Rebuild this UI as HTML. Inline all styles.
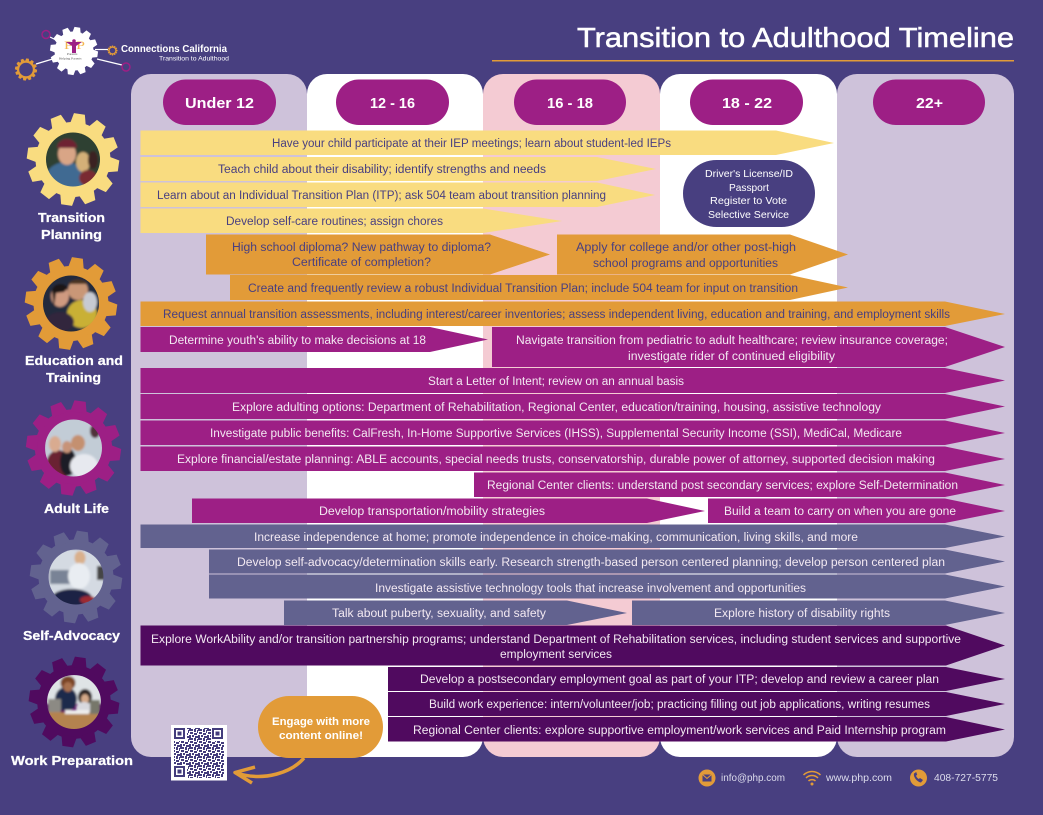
<!DOCTYPE html>
<html lang="en"><head><meta charset="utf-8"><title>Transition to Adulthood Timeline</title>
<style>
html,body{margin:0;padding:0;background:#483f80;width:1043px;height:815px;overflow:hidden}
svg{display:block}
text{font-family:"Liberation Sans",sans-serif}
.d text{fill:#483f80;font-size:11.5px}
.l text{fill:#f3e9f2;font-size:11.5px}
.h text{fill:#fff;font-weight:bold;font-size:13px;stroke:#fff;stroke-width:.25px}
.age text{fill:#fff;font-weight:bold;font-size:15px}
.f text{fill:#dcdcec;font-size:10px}
</style></head><body>
<svg width="1043" height="815" viewBox="0 0 1043 815" xmlns="http://www.w3.org/2000/svg">
<defs>
<clipPath id="c1"><circle cx="73" cy="159.5" r="27"/></clipPath>
<clipPath id="c2"><circle cx="71" cy="303.5" r="28"/></clipPath>
<clipPath id="c3"><circle cx="73.500" cy="448" r="28.500"/></clipPath>
<clipPath id="c4"><circle cx="76" cy="577" r="27.500"/></clipPath>
<clipPath id="c5"><circle cx="74" cy="702" r="27"/></clipPath>
<filter id="soft" x="-10%" y="-10%" width="120%" height="120%"><feGaussianBlur stdDeviation="1"/></filter>
<polygon id="t" points="-8,-35 -5.500,-46 5.500,-46 8,-35"/>
<g id="gear">
<circle r="37.500"/>
<use href="#t"/><use href="#t" transform="rotate(30)"/><use href="#t" transform="rotate(60)"/><use href="#t" transform="rotate(90)"/>
<use href="#t" transform="rotate(120)"/><use href="#t" transform="rotate(150)"/><use href="#t" transform="rotate(180)"/><use href="#t" transform="rotate(210)"/>
<use href="#t" transform="rotate(240)"/><use href="#t" transform="rotate(270)"/><use href="#t" transform="rotate(300)"/><use href="#t" transform="rotate(330)"/>
</g>
<pattern id="qr" width="9" height="9" patternUnits="userSpaceOnUse">
<rect width="9" height="9" fill="#fff"/>
<path fill="#433c7c" d="M0 0h4v2H0zM5 0h2v3H5zM8 1h1v3H8zM1 3h3v2H1zM5 4h3v2H5zM0 6h2v3H0zM3 6h2v2H3zM6 7h3v2H6z"/>
</pattern>
</defs>
<rect width="1043" height="815" fill="#483f80"/>

<!-- columns -->
<rect x="307" y="74" width="176" height="683" rx="20" fill="#fff"/>
<rect x="483" y="74" width="177" height="683" rx="20" fill="#f4cbd3"/>
<rect x="660" y="74" width="177" height="683" rx="20" fill="#fff"/>
<rect x="837" y="74" width="177" height="683" rx="20" fill="#cec2da"/>
<rect x="131" y="74" width="176" height="683" rx="20" fill="#cec2da"/>

<!-- age pills -->
<g fill="#9d1f85">
<rect x="163" y="79.500" width="113" height="45.500" rx="22.750"/>
<rect x="336" y="79.500" width="113" height="45.500" rx="22.750"/>
<rect x="514" y="79.500" width="112" height="45.500" rx="22.750"/>
<rect x="690" y="79.500" width="113" height="45.500" rx="22.750"/>
<rect x="873" y="79.500" width="112" height="45.500" rx="22.750"/>
</g>
<g class="age">
<text x="185" y="108" textLength="69" lengthAdjust="spacingAndGlyphs">Under 12</text>
<text x="370" y="108" textLength="45" lengthAdjust="spacingAndGlyphs">12 - 16</text>
<text x="547" y="108" textLength="46" lengthAdjust="spacingAndGlyphs">16 - 18</text>
<text x="722" y="108" textLength="50" lengthAdjust="spacingAndGlyphs">18 - 22</text>
<text x="916" y="108" textLength="27" lengthAdjust="spacingAndGlyphs">22+</text>
</g>

<!-- bars -->
<g fill="#f9dc80">
<polygon points="140.500,130.500 776,130.500 834,143 776,155 140.500,155"/>
<polygon points="140.500,157 597,157 656,169 597,181 140.500,181"/>
<polygon points="140.500,182.500 597,182.500 655,195 597,207 140.500,207"/>
<polygon points="140.500,208.500 483,208.500 562,221 483,233 140.500,233"/>
</g>
<g fill="#e29b38">
<polygon points="206,234.500 490,234.500 550,254.500 490,274.500 206,274.500"/>
<polygon points="557,234.500 790,234.500 848,254.500 790,274.500 557,274.500"/>
<polygon points="230,275 790,275 848,287.500 790,300 230,300"/>
<polygon points="140.500,301.500 945,301.500 1005,314 945,326 140.500,326"/>
</g>
<g fill="#9d1f85">
<polygon points="140.500,327 430,327 488,339.500 430,352 140.500,352"/>
<polygon points="492,327 945,327 1005,347 945,367 492,367"/>
<polygon points="140.500,368 945,368 1005,380.500 945,393 140.500,393"/>
<polygon points="140.500,394 945,394 1005,406.500 945,419 140.500,419"/>
<polygon points="140.500,420.500 945,420.500 1005,433 945,445 140.500,445"/>
<polygon points="140.500,446.500 945,446.500 1005,459 945,471 140.500,471"/>
<polygon points="474,472.500 945,472.500 1005,485 945,497 474,497"/>
<polygon points="192,498.500 647,498.500 705,511 647,523 192,523"/>
<polygon points="708,498.500 945,498.500 1005,511 945,523 708,523"/>
</g>
<g fill="#62628f">
<polygon points="140.500,524.500 945,524.500 1005,536.500 945,548 140.500,548"/>
<polygon points="209,549.500 945,549.500 1005,561.500 945,573.500 209,573.500"/>
<polygon points="209,574.500 945,574.500 1005,586.500 945,598.500 209,598.500"/>
<polygon points="284,600.500 567,600.500 627,613 567,625 284,625"/>
<polygon points="632,600.500 945,600.500 1005,613 945,625 632,625"/>
</g>
<g fill="#500a5f">
<polygon points="140.500,625.500 946,625.500 1005,645.500 946,665.500 140.500,665.500"/>
<polygon points="388,667 946,667 1005,679 946,691 388,691"/>
<polygon points="388,692 946,692 1005,704 946,716 388,716"/>
<polygon points="388,717 946,717 1005,729.500 946,741.500 388,741.500"/>
</g>

<!-- driver's box -->
<rect x="683" y="160" width="132" height="67" rx="33.500" fill="#483f80"/>
<g fill="#fff">
<text x="705" y="177" font-size="10.500" textLength="88" lengthAdjust="spacingAndGlyphs">Driver's License/ID</text>
<text x="729" y="191" font-size="10.500" textLength="40" lengthAdjust="spacingAndGlyphs">Passport</text>
<text x="710" y="204" font-size="10.500" textLength="77" lengthAdjust="spacingAndGlyphs">Register to Vote</text>
<text x="708" y="218" font-size="10.500" textLength="81" lengthAdjust="spacingAndGlyphs">Selective Service</text>
</g>

<!-- bar text dark -->
<g class="d">
<text x="272" y="147" textLength="399" lengthAdjust="spacingAndGlyphs">Have your child participate at their IEP meetings; learn about student-led IEPs</text>
<text x="218" y="173" textLength="328" lengthAdjust="spacingAndGlyphs">Teach child about their disability; identify strengths and needs</text>
<text x="157" y="199" textLength="449" lengthAdjust="spacingAndGlyphs">Learn about an Individual Transition Plan (ITP); ask 504 team about transition planning</text>
<text x="226" y="225" textLength="217" lengthAdjust="spacingAndGlyphs">Develop self-care routines; assign chores</text>
<text x="232" y="251" textLength="259" lengthAdjust="spacingAndGlyphs">High school diploma? New pathway to diploma?</text>
<text x="292" y="266" textLength="139" lengthAdjust="spacingAndGlyphs">Certificate of completion?</text>
<text x="576" y="251" textLength="220" lengthAdjust="spacingAndGlyphs">Apply for college and/or other post-high</text>
<text x="593" y="267" textLength="185" lengthAdjust="spacingAndGlyphs">school programs and opportunities</text>
<text x="248" y="292" textLength="550" lengthAdjust="spacingAndGlyphs">Create and frequently review a robust Individual Transition Plan; include 504 team for input on transition</text>
<text x="163" y="318" textLength="787" lengthAdjust="spacingAndGlyphs">Request annual transition assessments, including interest/career inventories; assess independent living, education and training, and employment skills</text>
</g>
<!-- bar text light -->
<g class="l">
<text x="169" y="344" textLength="257" lengthAdjust="spacingAndGlyphs">Determine youth's ability to make decisions at 18</text>
<text x="516" y="344" textLength="432" lengthAdjust="spacingAndGlyphs">Navigate transition from pediatric to adult healthcare; review insurance coverage;</text>
<text x="628" y="360" textLength="207" lengthAdjust="spacingAndGlyphs">investigate rider of continued eligibility</text>
<text x="428" y="385" textLength="256" lengthAdjust="spacingAndGlyphs">Start a Letter of Intent; review on an annual basis</text>
<text x="232" y="411" textLength="649" lengthAdjust="spacingAndGlyphs">Explore adulting options: Department of Rehabilitation, Regional Center, education/training, housing, assistive technology</text>
<text x="210" y="437" textLength="692" lengthAdjust="spacingAndGlyphs">Investigate public benefits: CalFresh, In-Home Supportive Services (IHSS), Supplemental Security Income (SSI), MediCal, Medicare</text>
<text x="177" y="463" textLength="758" lengthAdjust="spacingAndGlyphs">Explore financial/estate planning: ABLE accounts, special needs trusts, conservatorship, durable power of attorney, supported decision making</text>
<text x="487" y="489" textLength="471" lengthAdjust="spacingAndGlyphs">Regional Center clients: understand post secondary services; explore Self-Determination</text>
<text x="319" y="515" textLength="226" lengthAdjust="spacingAndGlyphs">Develop transportation/mobility strategies</text>
<text x="724" y="515" textLength="232" lengthAdjust="spacingAndGlyphs">Build a team to carry on when you are gone</text>
<text x="254" y="541" textLength="604" lengthAdjust="spacingAndGlyphs">Increase independence at home; promote independence in choice-making, communication, living skills, and more</text>
<text x="237" y="566" textLength="708" lengthAdjust="spacingAndGlyphs">Develop self-advocacy/determination skills early. Research strength-based person centered planning; develop person centered plan</text>
<text x="375" y="592" textLength="431" lengthAdjust="spacingAndGlyphs">Investigate assistive technology tools that increase involvement and opportunities</text>
<text x="332" y="617" textLength="214" lengthAdjust="spacingAndGlyphs">Talk about puberty, sexuality, and safety</text>
<text x="714" y="617" textLength="176" lengthAdjust="spacingAndGlyphs">Explore history of disability rights</text>
<text x="151" y="643" textLength="810" lengthAdjust="spacingAndGlyphs">Explore WorkAbility and/or transition partnership programs; understand Department of Rehabilitation services, including student services and supportive</text>
<text x="500" y="658" textLength="112" lengthAdjust="spacingAndGlyphs">employment services</text>
<text x="420" y="683" textLength="519" lengthAdjust="spacingAndGlyphs">Develop a postsecondary employment goal as part of your ITP; develop and review a career plan</text>
<text x="429" y="708" textLength="501" lengthAdjust="spacingAndGlyphs">Build work experience: intern/volunteer/job; practicing filling out job applications, writing resumes</text>
<text x="413" y="734" textLength="533" lengthAdjust="spacingAndGlyphs">Regional Center clients: explore supportive employment/work services and Paid Internship program</text>
</g>

<!-- Title -->
<text x="577" y="47" font-size="28" fill="#fff" textLength="437" lengthAdjust="spacingAndGlyphs" style="stroke:#fff;stroke-width:.5px">Transition to Adulthood Timeline</text>
<rect x="492" y="60" width="522" height="1.500" fill="#e29b38"/>

<!-- Logo -->
<g stroke="#fff" stroke-width="1.200" fill="none">
<line x1="36" y1="64" x2="56" y2="58"/><line x1="50" y1="37" x2="56" y2="40"/>
<line x1="95" y1="49.500" x2="108" y2="49.500"/><line x1="97" y1="59" x2="122" y2="65"/>
</g>
<use href="#gear" fill="#fff" transform="translate(74 51) scale(.52) rotate(8)"/>
<circle cx="46" cy="34.500" r="4" fill="none" stroke="#9d1f85" stroke-width="1.500"/>
<circle cx="126" cy="67" r="4" fill="none" stroke="#9d1f85" stroke-width="1.500"/>
<use href="#gear" fill="#e29b38" transform="translate(112.500 50.500) scale(.11)"/>
<circle cx="112.500" cy="50.500" r="2.800" fill="#483f80"/>
<use href="#gear" fill="#e29b38" transform="translate(26 69.500) scale(.24) rotate(8)"/>
<circle cx="26" cy="69.500" r="6.800" fill="#483f80"/>
<text x="64" y="49" font-size="12" fill="#f5b750" textLength="21" lengthAdjust="spacingAndGlyphs" style="font-family:'Liberation Serif',serif">P  P</text>
<circle cx="74" cy="41" r="1.800" fill="#9d1f85"/>
<path d="M66 42l6 4v7h4v-7l6-4" fill="#9d1f85"/>
<text x="67" y="55" font-size="3.500" fill="#555" style="font-family:'Liberation Serif',serif">Parents</text>
<text x="59" y="59.500" font-size="3.500" fill="#555" style="font-family:'Liberation Serif',serif">Helping Parents</text>
<text x="121" y="52" font-size="10" font-weight="bold" fill="#fff" textLength="106" lengthAdjust="spacingAndGlyphs">Connections California</text>
<text x="159" y="60.500" font-size="6" fill="#fff" textLength="70" lengthAdjust="spacingAndGlyphs">Transition to Adulthood</text>

<!-- Gear 1 -->
<use href="#gear" fill="#f9dc80" transform="translate(73 159.500) rotate(8)"/>
<g clip-path="url(#c1)"><g filter="url(#soft)">
<rect x="40" y="130" width="66" height="60" fill="#2f4030"/>
<ellipse cx="66" cy="178" rx="20" ry="16" fill="#3f6a92"/>
<ellipse cx="67" cy="154" rx="9" ry="11" fill="#d9a586"/>
<path d="M57 148a10 9 0 0 1 20 0z" fill="#6e2431"/>
<ellipse cx="83" cy="162" rx="7" ry="10" fill="#d4b078"/>
<ellipse cx="93" cy="160" rx="5" ry="9" fill="#3a2422"/>
<ellipse cx="88" cy="178" rx="9" ry="8" fill="#7a2c30"/>
</g></g>
<!-- Gear 2 -->
<use href="#gear" fill="#e29b38" transform="translate(71 303.500) rotate(8)"/>
<g clip-path="url(#c2)"><g filter="url(#soft)">
<rect x="40" y="272" width="62" height="62" fill="#222a3e"/>
<ellipse cx="60" cy="296" rx="9" ry="11" fill="#cf9a80"/>
<path d="M52 290a9 9 0 0 1 16-2l-4 4-8 1-2 14z" fill="#1c1618"/>
<ellipse cx="78" cy="290" rx="10" ry="10" fill="#c99777"/>
<path d="M68 284a11 8 0 0 1 20 0z" fill="#4b3424"/>
<ellipse cx="82" cy="314" rx="15" ry="14" fill="#c9b035"/>
<ellipse cx="90" cy="302" rx="7" ry="10" fill="#c7cad2"/>
<ellipse cx="60" cy="322" rx="14" ry="10" fill="#30283c"/>
</g></g>
<!-- Gear 3 -->
<use href="#gear" fill="#9d1f85" transform="translate(73.500 448) scale(1.030) rotate(8)"/>
<g clip-path="url(#c3)"><g filter="url(#soft)">
<rect x="44" y="418" width="60" height="60" fill="#c2ccd6"/>
<ellipse cx="58" cy="466" rx="12" ry="16" fill="#6b2230"/>
<ellipse cx="55" cy="444" rx="6" ry="8" fill="#d9ab90"/>
<ellipse cx="68" cy="462" rx="8" ry="14" fill="#1f1c28"/>
<ellipse cx="67" cy="447" rx="5" ry="6" fill="#c79378"/>
<ellipse cx="78" cy="443" rx="7" ry="8" fill="#c49070"/>
<ellipse cx="84" cy="466" rx="14" ry="12" fill="#e7e9ef"/>
<ellipse cx="95" cy="431" rx="5" ry="7" fill="#51303a"/>
</g></g>
<!-- Gear 4 -->
<use href="#gear" fill="#62628f" transform="translate(76 577) rotate(8)"/>
<g clip-path="url(#c4)"><g filter="url(#soft)">
<rect x="48" y="549" width="56" height="56" fill="#d4dae2"/>
<rect x="50" y="570" width="24" height="14" fill="#3c4a64" opacity=".6"/>
<ellipse cx="80" cy="558" rx="5.500" ry="7" fill="#d9b08c"/>
<ellipse cx="79" cy="576" rx="11" ry="13" fill="#e9edf2"/>
<ellipse cx="72" cy="598" rx="20" ry="9" fill="#1e2444"/>
<rect x="97" y="566" width="7" height="14" fill="#444"/>
<ellipse cx="88" cy="600" rx="8" ry="4" fill="#9c2a33"/>
</g></g>
<!-- Gear 5 -->
<use href="#gear" fill="#500a5f" transform="translate(74 702) scale(.98) rotate(8)"/>
<g clip-path="url(#c5)"><g filter="url(#soft)">
<rect x="46" y="674" width="56" height="30" fill="#dfe4e6"/>
<rect x="46" y="712" width="56" height="20" fill="#b48350"/>
<ellipse cx="66" cy="699" rx="11" ry="12" fill="#1f2a4c"/>
<ellipse cx="68" cy="683" rx="7.500" ry="7" fill="#7a4426"/>
<ellipse cx="68" cy="687" rx="4.500" ry="5" fill="#a86f4e"/>
<ellipse cx="85" cy="697" rx="7" ry="8" fill="#2a2020"/>
<ellipse cx="85" cy="699" rx="4" ry="5" fill="#d3a888"/>
<ellipse cx="84" cy="708" rx="8" ry="6" fill="#d8d8de"/>
<rect x="48" y="699" width="13" height="13" fill="#8c8a84"/>
<rect x="90" y="700" width="10" height="14" fill="#77776a"/>
<rect x="65" y="710" width="24" height="4" fill="#eee"/>
</g></g>

<!-- Left labels -->
<g class="h">
<text x="38" y="222" textLength="67" lengthAdjust="spacingAndGlyphs">Transition</text>
<text x="41" y="239" textLength="61" lengthAdjust="spacingAndGlyphs">Planning</text>
<text x="25" y="365" textLength="98" lengthAdjust="spacingAndGlyphs">Education and</text>
<text x="46" y="382" textLength="55" lengthAdjust="spacingAndGlyphs">Training</text>
<text x="44" y="513" textLength="65" lengthAdjust="spacingAndGlyphs">Adult Life</text>
<text x="23" y="640" textLength="97" lengthAdjust="spacingAndGlyphs">Self-Advocacy</text>
<text x="11" y="765" textLength="122" lengthAdjust="spacingAndGlyphs">Work Preparation</text>
</g>

<!-- Engage -->
<rect x="258" y="696" width="125" height="62" rx="31" fill="#e29b38"/>
<text x="272" y="725" font-size="11" font-weight="bold" fill="#fff" textLength="98" lengthAdjust="spacingAndGlyphs">Engage with more</text>
<text x="279" y="739" font-size="11" font-weight="bold" fill="#fff" textLength="84" lengthAdjust="spacingAndGlyphs">content online!</text>
<path d="M304 758C292 772 265 782 236 773M255 767L235 772.500L252 783" fill="none" stroke="#e29b38" stroke-width="3.500" stroke-linejoin="round"/>

<!-- QR -->
<rect x="171" y="725" width="56" height="55.500" fill="#fff"/>
<rect x="174" y="728" width="50" height="50" fill="url(#qr)"/>
<g fill="#fff"><rect x="173" y="727" width="14" height="14"/><rect x="211" y="727" width="14" height="14"/><rect x="173" y="765" width="14" height="14"/></g>
<g fill="none" stroke="#433c7c" stroke-width="2">
<rect x="175" y="729" width="9" height="9"/><rect x="213" y="729" width="9" height="9"/><rect x="175" y="767" width="9" height="9"/>
</g>
<g fill="#433c7c"><rect x="177.500" y="731.500" width="4" height="4"/><rect x="215.500" y="731.500" width="4" height="4"/><rect x="177.500" y="769.500" width="4" height="4"/></g>

<!-- Footer -->
<circle cx="707" cy="778" r="8.500" fill="#e29b38"/>
<rect x="702.500" y="774.500" width="9" height="7" fill="#483f80"/>
<path d="M702.500 774.500l4.500 4 4.500-4" fill="none" stroke="#e29b38" stroke-width="1"/>
<g fill="none" stroke="#e29b38" stroke-width="1.500">
<path d="M803.500 775a12 12 0 0 1 17 0"/><path d="M806 778a8.500 8.500 0 0 1 12 0"/><path d="M808.500 781a5 5 0 0 1 7 0"/>
</g>
<circle cx="812" cy="784" r="1.500" fill="#e29b38"/>
<circle cx="918.500" cy="778" r="8.500" fill="#e29b38"/>
<path d="M914 773.500c-1 3 3 8.500 7 9l2-2.500-3-2-1.200 1c-1.300-.8-2.300-2-2.800-3.300l1.200-1-1-2.700z" fill="#483f80"/>
<g class="f">
<text x="721" y="781" textLength="64" lengthAdjust="spacingAndGlyphs">info@php.com</text>
<text x="826" y="781" textLength="66" lengthAdjust="spacingAndGlyphs">www.php.com</text>
<text x="934" y="781" textLength="64" lengthAdjust="spacingAndGlyphs">408-727-5775</text>
</g>
</svg>
</body></html>
